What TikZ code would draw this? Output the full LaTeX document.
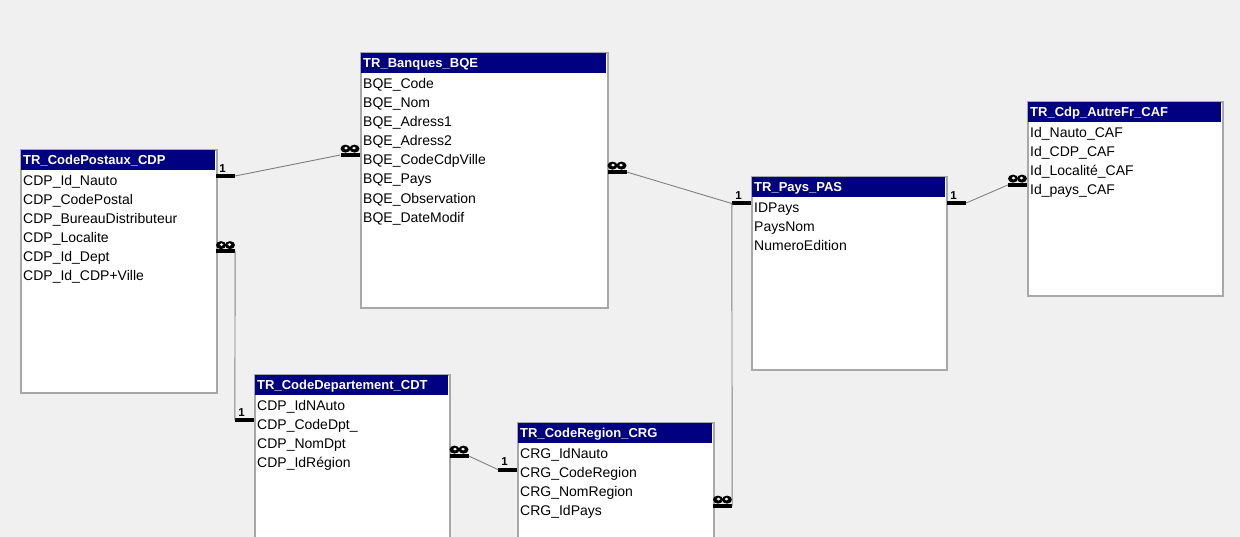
\documentclass[tikz,border=0pt]{standalone}
\usepackage{fontspec}
\setmainfont{Liberation Sans}
\usepackage{tikz}
\usetikzlibrary{positioning}

\definecolor{bggray}{RGB}{240,240,240}
\definecolor{navyhead}{RGB}{0,0,128}
\definecolor{boxline}{RGB}{168,168,168}
\definecolor{relline}{RGB}{128,128,128}

\tikzset{
    tbl/.style={draw=boxline, line width=2pt, fill=white, inner sep=0, anchor=north west},
    hdr/.style={fill=navyhead, text=white, font=\fontsize{13}{13}\selectfont\bfseries,
        inner xsep=2pt, inner ysep=3pt, text height=11pt, text depth=3pt, align=left},
    fld/.style={font=\fontsize{14}{14}\selectfont, inner xsep=0pt, inner ysep=2.35pt,
        text height=11pt, text depth=3pt},
    endbar/.style={fill=black, inner sep=0, minimum width=19pt, minimum height=4pt},
    onetxt/.style={font=\fontsize{11.5}{11.5}\selectfont\bfseries, inner sep=0},
    % bold infinity sign drawn as two blobs with holes
    manytxt/.style={inner sep=0, minimum width=19pt, minimum height=8pt,
        path picture={
            \fill[black] ([xshift=5pt]path picture bounding box.west) ellipse[x radius=5pt, y radius=4pt];
            \fill[black] ([xshift=-5pt]path picture bounding box.east) ellipse[x radius=5pt, y radius=4pt];
            \fill[white] ([xshift=5.5pt, yshift=0.5pt]path picture bounding box.west) ellipse[x radius=1.8pt, y radius=1.4pt];
            \fill[white] ([xshift=-5.5pt, yshift=0.5pt]path picture bounding box.east) ellipse[x radius=1.8pt, y radius=1.4pt];
        }},
    rel/.style={draw=relline, line width=0.9pt}
}

\begin{document}
\begin{tikzpicture}[x=1pt, y=-1pt]
    \useasboundingbox (0,0) rectangle (1240,537);
    \clip (0,0) rectangle (1240,537);
    \fill[bggray] (0,0) rectangle (1240,537);

    % tables
    \node[tbl, minimum width=196pt, minimum height=243pt] (cdp) at (20,149) {};
    \node[hdr, text width=190pt, below right=1pt and 1pt of cdp.north west] (cdph) {TR\_CodePostaux\_CDP};
    \node[fld, below right=1.5pt and 2pt of cdph.south west] (cdp1) {CDP\_Id\_Nauto};
    \node[fld, below right=0pt of cdp1.south west] (cdp2) {CDP\_CodePostal};
    \node[fld, below right=0pt of cdp2.south west] (cdp3) {CDP\_BureauDistributeur};
    \node[fld, below right=0pt of cdp3.south west] (cdp4) {CDP\_Localite};
    \node[fld, below right=0pt of cdp4.south west] (cdp5) {CDP\_Id\_Dept};
    \node[fld, below right=0pt of cdp5.south west] (cdp6) {CDP\_Id\_CDP+Ville};

    \node[tbl, minimum width=247pt, minimum height=255pt] (bqe) at (360,52) {};
    \node[hdr, text width=241pt, below right=1pt and 1pt of bqe.north west] (bqeh) {TR\_Banques\_BQE};
    \node[fld, below right=1.5pt and 2pt of bqeh.south west] (bqe1) {BQE\_Code};
    \node[fld, below right=0pt of bqe1.south west] (bqe2) {BQE\_Nom};
    \node[fld, below right=0pt of bqe2.south west] (bqe3) {BQE\_Adress1};
    \node[fld, below right=0pt of bqe3.south west] (bqe4) {BQE\_Adress2};
    \node[fld, below right=0pt of bqe4.south west] (bqe5) {BQE\_CodeCdpVille};
    \node[fld, below right=0pt of bqe5.south west] (bqe6) {BQE\_Pays};
    \node[fld, below right=0pt of bqe6.south west] (bqe7) {BQE\_Observation};
    \node[fld, below right=0pt of bqe7.south west] (bqe8) {BQE\_DateModif};

    \node[tbl, minimum width=195pt, minimum height=194pt] (caf) at (1027,101) {};
    \node[hdr, text width=189pt, below right=1pt and 1pt of caf.north west] (cafh) {TR\_Cdp\_AutreFr\_CAF};
    \node[fld, below right=1.5pt and 2pt of cafh.south west] (caf1) {Id\_Nauto\_CAF};
    \node[fld, below right=0pt of caf1.south west] (caf2) {Id\_CDP\_CAF};
    \node[fld, below right=0pt of caf2.south west] (caf3) {Id\_Localité\_CAF};
    \node[fld, below right=0pt of caf3.south west] (caf4) {Id\_pays\_CAF};

    \node[tbl, minimum width=195pt, minimum height=193pt] (pas) at (751,176) {};
    \node[hdr, text width=189pt, below right=1pt and 1pt of pas.north west] (pash) {TR\_Pays\_PAS};
    \node[fld, below right=1.5pt and 2pt of pash.south west] (pas1) {IDPays};
    \node[fld, below right=0pt of pas1.south west] (pas2) {PaysNom};
    \node[fld, below right=0pt of pas2.south west] (pas3) {NumeroEdition};

    \node[tbl, minimum width=195pt, minimum height=200pt] (cdt) at (254,374) {};
    \node[hdr, text width=189pt, below right=1pt and 1pt of cdt.north west] (cdth) {TR\_CodeDepartement\_CDT};
    \node[fld, below right=1.5pt and 2pt of cdth.south west] (cdt1) {CDP\_IdNAuto};
    \node[fld, below right=0pt of cdt1.south west] (cdt2) {CDP\_CodeDpt\_};
    \node[fld, below right=0pt of cdt2.south west] (cdt3) {CDP\_NomDpt};
    \node[fld, below right=0pt of cdt3.south west] (cdt4) {CDP\_IdRégion};

    \node[tbl, minimum width=196pt, minimum height=200pt] (crg) at (517,422) {};
    \node[hdr, text width=190pt, below right=1pt and 1pt of crg.north west] (crgh) {TR\_CodeRegion\_CRG};
    \node[fld, below right=1.5pt and 2pt of crgh.south west] (crg1) {CRG\_IdNauto};
    \node[fld, below right=0pt of crg1.south west] (crg2) {CRG\_CodeRegion};
    \node[fld, below right=0pt of crg2.south west] (crg3) {CRG\_NomRegion};
    \node[fld, below right=0pt of crg3.south west] (crg4) {CRG\_IdPays};

    % relation ends
    \node[endbar] (m1) at (225.5,176) {};
    \node[endbar] (m2) at (350,155) {};
    \node[endbar] (m3) at (225.5,251.5) {};
    \node[endbar] (m4) at (244.5,420) {};
    \node[endbar] (m5) at (617,172) {};
    \node[endbar] (m6) at (741.5,203.5) {};
    \node[endbar] (m7) at (722.5,506) {};
    \node[endbar] (m8) at (956.5,203) {};
    \node[endbar] (m9) at (1017.5,185) {};
    \node[endbar] (m10) at (459,456) {};
    \node[endbar] (m11) at (507.5,469.5) {};

    \node[onetxt, above=1.5pt of m1, xshift=-3pt] (t1) {1};
    \node[manytxt, above=0pt of m2] (t2) {};
    \node[manytxt, above=0pt of m3] (t3) {};
    \node[onetxt, above=1.5pt of m4, xshift=-3pt] (t4) {1};
    \node[manytxt, above=0pt of m5] (t5) {};
    \node[onetxt, above=1.5pt of m6, xshift=-3pt] (t6) {1};
    \node[manytxt, above=0pt of m7] (t7) {};
    \node[onetxt, above=1.5pt of m8, xshift=-3pt] (t8) {1};
    \node[manytxt, above=0pt of m9] (t9) {};
    \node[manytxt, above=0pt of m10] (t10) {};
    \node[onetxt, above=1.5pt of m11, xshift=-3pt] (t11) {1};

    \draw[rel] (m1.east) -- (m2.west);
    \draw[rel] (m3.east) -- (m4.west);
    \draw[rel] (m5.east) -- (m6.west);
    \draw[rel] (m6.west) -- (m7.east);
    \draw[rel] (m8.east) -- (m9.west);
    \draw[rel] (m10.east) -- (m11.west);
\end{tikzpicture}
\end{document}
